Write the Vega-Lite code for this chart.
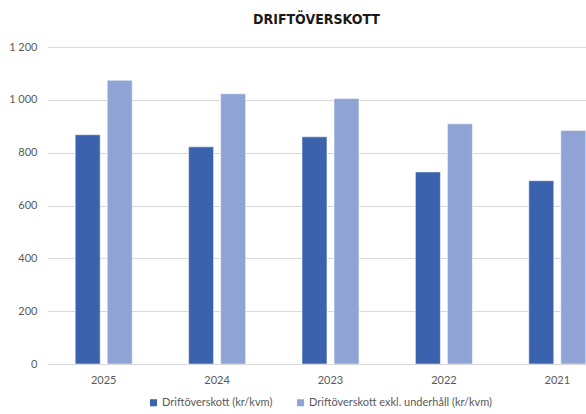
{
  "$schema": "https://vega.github.io/schema/vega-lite/v6.json",
  "autosize": {"type": "none"},
  "padding": {"left": 47, "top": 47, "right": 0, "bottom": 50},
  "width": 539,
  "height": 317,
  "background": "white",
  "title": {
    "text": "DRIFTÖVERSKOTT",
    "font": "DejaVu Sans Condensed, Roboto Condensed, Liberation Sans Narrow, Roboto, sans-serif",
    "fontWeight": "bold",
    "fontSize": 14,
    "color": "#1a1a1a",
    "anchor": "middle",
    "offset": 14
  },
  "data": {
    "values": [
      {"year": "2025", "series": "Driftöverskott (kr/kvm)", "value": 868},
      {"year": "2025", "series": "Driftöverskott exkl. underhåll (kr/kvm)", "value": 1074},
      {"year": "2024", "series": "Driftöverskott (kr/kvm)", "value": 822},
      {"year": "2024", "series": "Driftöverskott exkl. underhåll (kr/kvm)", "value": 1023},
      {"year": "2023", "series": "Driftöverskott (kr/kvm)", "value": 860},
      {"year": "2023", "series": "Driftöverskott exkl. underhåll (kr/kvm)", "value": 1005},
      {"year": "2022", "series": "Driftöverskott (kr/kvm)", "value": 727},
      {"year": "2022", "series": "Driftöverskott exkl. underhåll (kr/kvm)", "value": 909},
      {"year": "2021", "series": "Driftöverskott (kr/kvm)", "value": 694},
      {"year": "2021", "series": "Driftöverskott exkl. underhåll (kr/kvm)", "value": 884}
    ]
  },
  "mark": {"type": "bar", "clip": true, "stroke": "white", "strokeOpacity": 0.5, "strokeWidth": 1},
  "encoding": {
    "x": {
      "field": "year",
      "type": "nominal",
      "sort": ["2025", "2024", "2023", "2022", "2021"],
      "scale": {"range": [0, 567], "paddingInner": 0, "paddingOuter": 0},
      "axis": {
        "title": null,
        "domain": false,
        "ticks": false,
        "labelAngle": 0,
        "labelPadding": 10,
        "labelFont": "Lato",
        "labelFontSize": 11,
        "labelColor": "#595959"
      }
    },
    "xOffset": {
      "field": "series",
      "type": "nominal",
      "scale": {"paddingInner": 0.22, "paddingOuter": 0.88}
    },
    "y": {
      "field": "value",
      "type": "quantitative",
      "scale": {"domain": [0, 1200]},
      "axis": {
        "title": null,
        "values": [0, 200, 400, 600, 800, 1000, 1200],
        "labelExpr": "replace(format(datum.value, ','), ',', ' ')",
        "domain": false,
        "ticks": false,
        "labelPadding": 10,
        "labelFont": "Lato",
        "labelFontSize": 11,
        "labelColor": "#595959",
        "gridColor": "#d9d9d9",
        "gridWidth": 1
      }
    },
    "color": {
      "field": "series",
      "type": "nominal",
      "scale": {
        "domain": ["Driftöverskott (kr/kvm)", "Driftöverskott exkl. underhåll (kr/kvm)"],
        "range": ["#3b63ad", "#8fa4d5"]
      },
      "legend": {
        "title": null,
        "orient": "none",
        "legendX": 101,
        "legendY": 350,
        "direction": "horizontal",
        "symbolType": "square",
        "symbolSize": 49,
        "symbolStrokeWidth": 0,
        "labelFont": "Lato",
        "labelFontSize": 11,
        "labelColor": "#595959",
        "labelOffset": 3,
        "labelLimit": 400,
        "columnPadding": 22
      }
    }
  },
  "config": {
    "view": {"stroke": null}
  }
}
